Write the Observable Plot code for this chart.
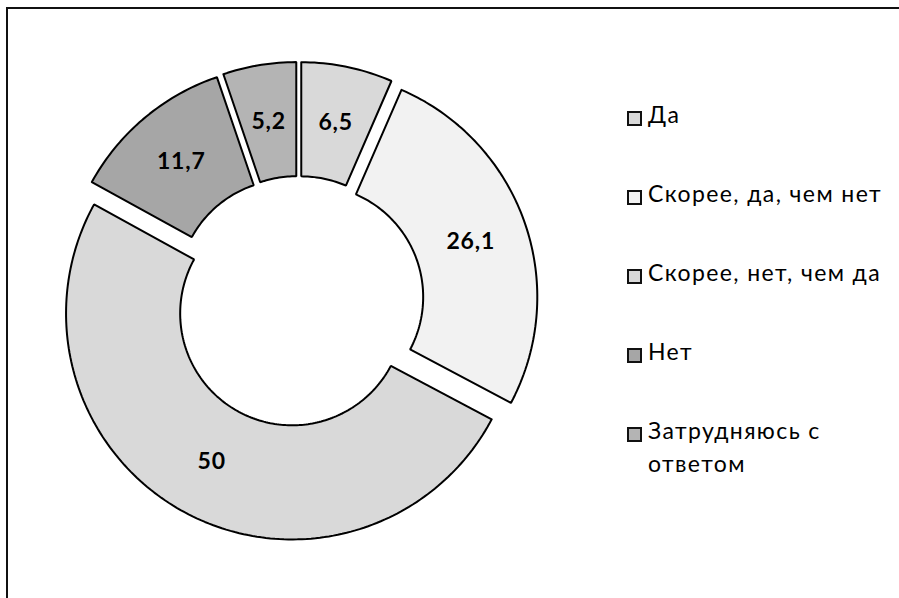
<!DOCTYPE html>
<html>
<head>
<meta charset="utf-8">
<script src="https://cdn.jsdelivr.net/npm/d3@7"></script>
<script src="https://cdn.jsdelivr.net/npm/@observablehq/plot@0.6"></script>
<style>
  html, body { margin: 0; padding: 0; background: #fff; overflow: hidden; }
  #wrap { position: relative; width: 899px; height: 598px; overflow: hidden; }
  #frame { position: absolute; left: 6px; top: 7px; width: 1000px; height: 1000px;
           border-left: 2px solid #111; border-top: 2px solid #111; }
  #chart { position: absolute; left: 0; top: 0; }
  #chart text { letter-spacing: 0.8px; }
  #legend { position: absolute; left: 627px; top: 0; font-family: Lato, "Open Sans", sans-serif;
            font-size: 23px; letter-spacing: 1.4px; color: #000; }
  .item { position: absolute; left: 0; display: flex; align-items: flex-start; width: 275px; }
  .sw { width: 11px; height: 11px; border: 2px solid #111; margin-top: 5px; margin-right: 6px; flex: none; }
  .lab { line-height: 33px; margin-top: -8px; white-space: nowrap; }
</style>
</head>
<body>
<div id="wrap">
  <div id="frame"></div>
  <div id="chart"></div>
  <div id="legend"></div>
</div>
<script>
const categories = ["Да", "Скорее, да, чем нет", "Скорее, нет, чем да", "Нет", "Затрудняюсь с ответом"];
const legendLines = [["Да"], ["Скорее, да, чем нет"], ["Скорее, нет, чем да"], ["Нет"], ["Затрудняюсь с", "ответом"]];
const values = [6.5, 26.1, 50, 11.7, 5.2];
const valueLabels = ["6,5", "26,1", "50", "11,7", "5,2"];
const colors = ["#d9d9d9", "#f2f2f2", "#d9d9d9", "#a6a6a6", "#b4b4b4"];

const innerRatio = 0.495;
const explode = 0.06;

const pie = d3.pie().sort(null).value(d => d.value);
const table = categories.map((c, i) => ({category: c, value: values[i], label: valueLabels[i], color: colors[i]}));
const arcs = pie(table);

// Build slice outlines in unit coordinates (angle clockwise from top)
const pts = [];
const labels = [];
arcs.forEach((a, i) => {
  const mid = (a.startAngle + a.endAngle) / 2;
  const ox = explode * Math.sin(mid), oy = -explode * Math.cos(mid);
  const n = Math.max(8, Math.ceil((a.endAngle - a.startAngle) / 0.02));
  const ring = [];
  for (let k = 0; k <= n; k++) {
    const t = a.startAngle + (a.endAngle - a.startAngle) * k / n;
    ring.push([ox + Math.sin(t), oy - Math.cos(t)]);
  }
  for (let k = n; k >= 0; k--) {
    const t = a.startAngle + (a.endAngle - a.startAngle) * k / n;
    ring.push([ox + innerRatio * Math.sin(t), oy - innerRatio * Math.cos(t)]);
  }
  ring.push(ring[0]);
  ring.forEach(([x, y]) => pts.push({slice: i, x, y, color: a.data.color}));
  const rm = (1 + innerRatio) / 2;
  labels.push({x: ox + rm * Math.sin(mid), y: oy - rm * Math.cos(mid), label: a.data.label});
});

const chart = Plot.plot({
  width: 899,
  height: 598,
  margin: 0,
  x: {domain: [-1, 1], range: [72, 524], axis: null},
  y: {domain: [-1, 1], range: [75, 527], axis: null},
  marks: [
    Plot.line(pts, {x: "x", y: "y", z: "slice", fill: "color", stroke: "#000", strokeWidth: 2, strokeLinejoin: "miter", curve: "linear"}),
    Plot.text(labels, {x: "x", y: "y", text: "label", fontSize: 23, fontWeight: "bold", fill: "#000",
      fontFamily: "Lato, 'Open Sans', sans-serif"})
  ],
  style: {background: "transparent"}
});
document.getElementById("chart").appendChild(chart);

const legendTops = [118, 197, 276, 355, 434];
const leg = document.getElementById("legend");
legendLines.forEach((lines, i) => {
  const it = document.createElement("div");
  it.className = "item";
  it.style.top = (legendTops[i] - 12) + "px";
  const sw = document.createElement("div");
  sw.className = "sw";
  sw.style.background = colors[i];
  const lab = document.createElement("div");
  lab.className = "lab";
  lab.innerHTML = lines.join("<br>");
  it.appendChild(sw);
  it.appendChild(lab);
  leg.appendChild(it);
});
</script>
</body>
</html>
